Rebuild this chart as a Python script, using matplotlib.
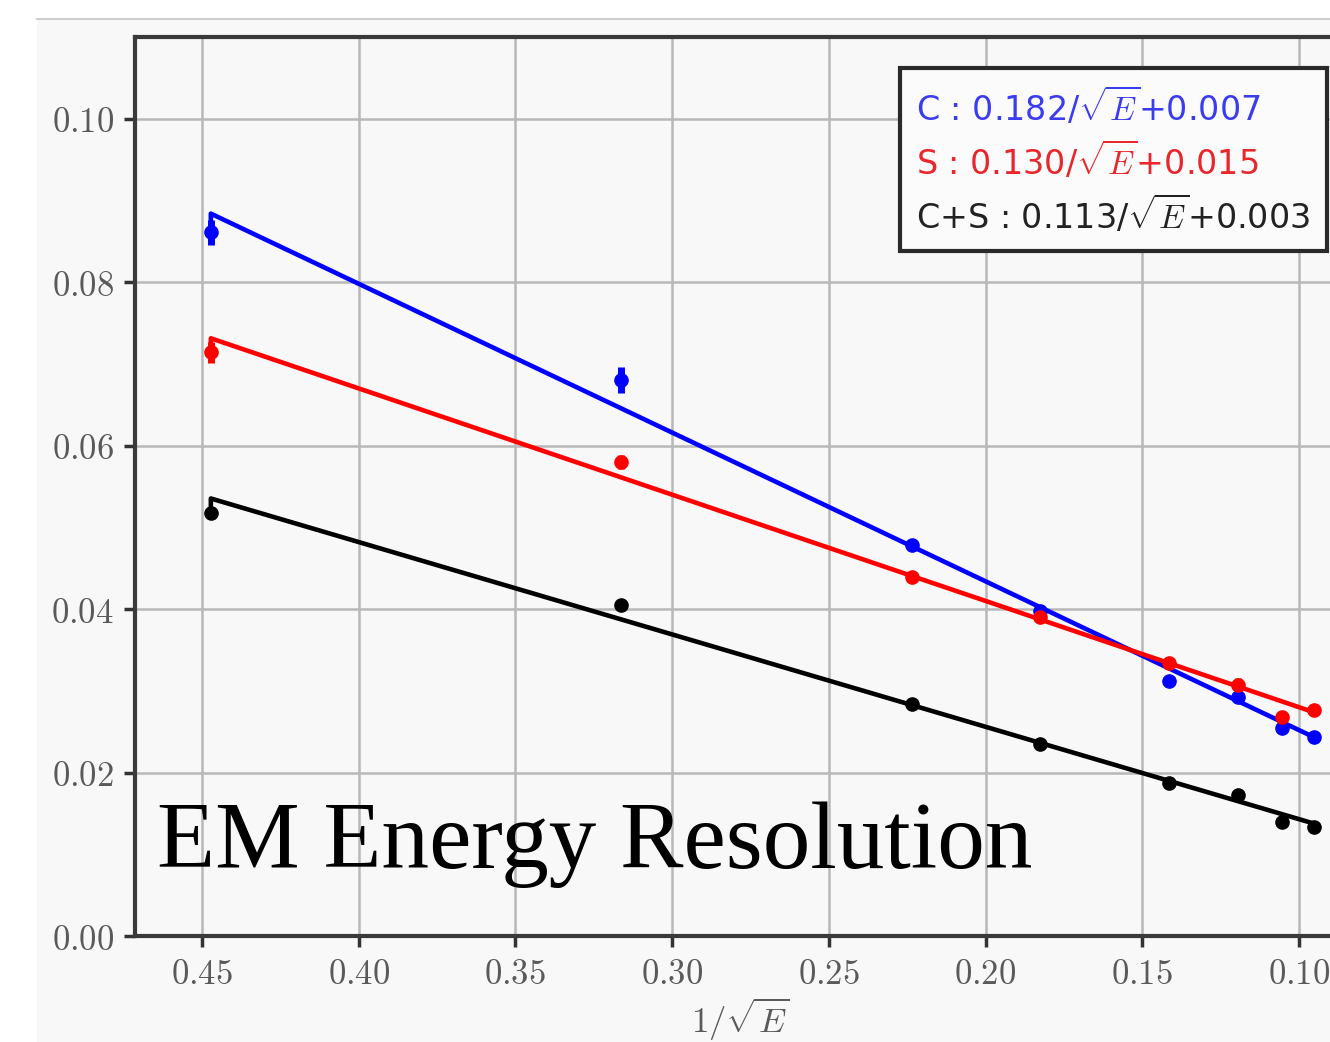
import numpy as np
import matplotlib.pyplot as plt
from matplotlib.lines import Line2D
from matplotlib.patches import Rectangle
from matplotlib.ticker import FuncFormatter

plt.rcParams['mathtext.fontset'] = 'cm'

# ------------------------------------------------------------------
# Data (x = 1/sqrt(E))
# ------------------------------------------------------------------
inv_sqrt_e = [0.4472, 0.3162, 0.2236, 0.1826, 0.1414, 0.1195, 0.1054, 0.0953]

res_c = [0.0861, 0.0680, 0.0478, 0.0398, 0.0312, 0.0293, 0.0254, 0.0243]
err_c = [0.0015, 0.0016, 0.0005, 0.0004, 0.0004, 0.0004, 0.0004, 0.0004]

res_s = [0.0714, 0.0580, 0.0439, 0.0390, 0.0334, 0.0307, 0.0268, 0.0276]
err_s = [0.0013, 0.0009, 0.0005, 0.0004, 0.0004, 0.0009, 0.0004, 0.0004]

res_cs = [0.0517, 0.0405, 0.0284, 0.0235, 0.0187, 0.0172, 0.0139, 0.0133]
err_cs = [0.0004, 0.0003, 0.0003, 0.0003, 0.0003, 0.0003, 0.0003, 0.0003]

# fit parameters:  sigma/E = a/sqrt(E) + b
fit_a = [0.182, 0.130, 0.113]
fit_b = [0.007, 0.015, 0.003]
fit_names = ['C', 'S', 'C+S']
colors = ['#0000ff', '#ff0000', '#000000']
text_colors = ['#3b3bf0', '#e8262b', '#222222']

x_ticks = [0.45, 0.40, 0.35, 0.30, 0.25, 0.20, 0.15, 0.10]
y_ticks = [0.00, 0.02, 0.04, 0.06, 0.08, 0.10]

# ------------------------------------------------------------------
# Figure
# ------------------------------------------------------------------
W, H = 1330, 1042
fig = plt.figure(figsize=(W / 100, H / 100), dpi=100, facecolor='white')

# light gray panel behind the plot (screenshot look)
fig.patches.append(Rectangle((37 / W, 0), 1, 1 - 19 / H, transform=fig.transFigure,
                             facecolor='#f8f8f8', edgecolor='none', zorder=-10))
fig.add_artist(Line2D([37 / W, 1], [1 - 19 / H, 1 - 19 / H], transform=fig.transFigure,
                      color='#cfcfcf', lw=1.5))

ax = fig.add_axes([135 / W, 1 - 936 / H, (1345 - 135) / W, (936 - 37) / H])
ax.set_facecolor('#f8f8f8')

x = np.array(inv_sqrt_e)
series = [(res_c, err_c), (res_s, err_s), (res_cs, err_cs)]
for (vals, errs), a, b, col in zip(series, fit_a, fit_b, colors):
    ax.errorbar(x, vals, yerr=errs, fmt='o', color=col, ms=9.5, elinewidth=5,
                capsize=0, zorder=4)
    fit = a * x + b
    # fit line, hooked onto the first measured point as in the original
    ax.plot(np.r_[x[0], x], np.r_[vals[0], fit], color=col, lw=3.3, zorder=3)

ax.set_xlim(0.4714, 0.45 - (1345 - 202) / 3134)
ax.set_ylim(0, 0.11)
ax.set_xticks(x_ticks)
ax.set_yticks(y_ticks)
ax.xaxis.set_major_formatter(FuncFormatter(lambda v, p: r'$%.2f$' % v))
ax.yaxis.set_major_formatter(FuncFormatter(lambda v, p: r'$%.2f$' % v))
ax.tick_params(axis='both', labelsize=25, labelcolor='#5a5a5a', color='#333333',
               length=8, width=2.5, direction='out', pad=7)
ax.grid(True, color='#b8b8b8', lw=1.8)
ax.set_axisbelow(True)
for sp in ax.spines.values():
    sp.set_color('#3a3a3a')
    sp.set_linewidth(3)

ax.set_xlabel(r'$1/\sqrt{E}$', fontsize=25, color='#5a5a5a', labelpad=4)

# big overlay caption
ax.text(157 / W, 1 - 845 / H, 'EM Energy Resolution', transform=fig.transFigure,
        fontsize=68.5, family='Liberation Serif', color='black', va='center', ha='left',
        zorder=6)

# legend with fit formulas
labels = [r'%s : %.3f/$\sqrt{E}$+%.3f' % (n, a, b)
          for n, a, b in zip(fit_names, fit_a, fit_b)]
handles = [Line2D([], [], lw=0) for _ in labels]
leg = ax.legend(handles, labels, loc='upper right',
                bbox_to_anchor=(1327 / W, 1 - 68 / H), bbox_transform=fig.transFigure,
                borderaxespad=0, handlelength=0, handletextpad=0, fontsize=24,
                labelcolor=text_colors, frameon=True, fancybox=False,
                framealpha=1, edgecolor='#2a2a2a', facecolor='#fbfbfb',
                labelspacing=0.36, borderpad=0.5)
leg.get_frame().set_linewidth(3)
leg.set_zorder(7)

plt.savefig('out.png', dpi=100, facecolor=fig.get_facecolor())
